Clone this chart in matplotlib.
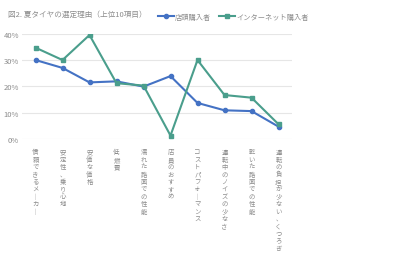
import numpy as np
import matplotlib.pyplot as plt

plt.rcParams['font.family'] = ['Noto Sans CJK JP', 'DejaVu Sans']

# data
categories = ['信頼できるメーカー', '安定性、乗り心地', '安価な価格', '低燃費',
              '濡れた路面での性能', '店員のおすすめ', 'コストパフォーマンス',
              '運転中のノイズの少なさ', '乾いた路面での性能', '運転の負担が少ない、くつろぎ']
store = [30.0, 27.0, 21.5, 21.9, 19.9, 23.9, 13.7, 10.9, 10.6, 4.7]
online = [34.7, 30.0, 39.5, 21.2, 20.3, 1.3, 30.0, 16.7, 15.7, 5.6]
yticks = [0, 10, 20, 30, 40]

blue = '#4472C4'
green = '#4A9E8C'
gray = '#8C8C8C'

fig = plt.figure(figsize=(4, 2.55), dpi=100)
ax = fig.add_axes([22 / 400, 1 - 140 / 255, 270 / 400, 105.3 / 255])

x = np.arange(len(categories))
ax.plot(x, store, color=blue, lw=1.5, marker='o', ms=3, label='店頭購入者')
ax.plot(x, online, color=green, lw=1.5, marker='s', ms=3, label='インターネット購入者')

ax.set_xlim(-0.5, len(categories) - 0.5)
ax.set_ylim(0, 40)
ax.set_yticks(yticks)
ax.set_yticklabels([f'{v}%' for v in yticks], fontsize=5.5, color=gray)
ax.grid(axis='y', color='#E6E6E6', lw=0.8)
ax.set_axisbelow(True)

# vertical japanese labels
vlabels = ['\n'.join(c.replace('ー', '｜')) for c in categories]
ax.set_xticks(x)
ax.set_xticklabels(vlabels, fontsize=4.6, color=gray, va='top', linespacing=0.9)
ax.tick_params(length=0)
ax.tick_params(axis='x', pad=6)
ax.tick_params(axis='y', pad=2)
for s in ax.spines.values():
    s.set_visible(False)

fig.text(8 / 400, 1 - 15 / 255, '図2. 夏タイヤの選定理由（上位10項目）',
         fontsize=5.5, color=gray, va='center', ha='left')
fig.legend(loc='center left', bbox_to_anchor=(155 / 400, 1 - 18 / 255), ncol=2,
           frameon=False, fontsize=5.2, labelcolor=gray, handlelength=2.2,
           handletextpad=0.2, columnspacing=1.0, borderaxespad=0)

fig.savefig('out.png', dpi=100)
